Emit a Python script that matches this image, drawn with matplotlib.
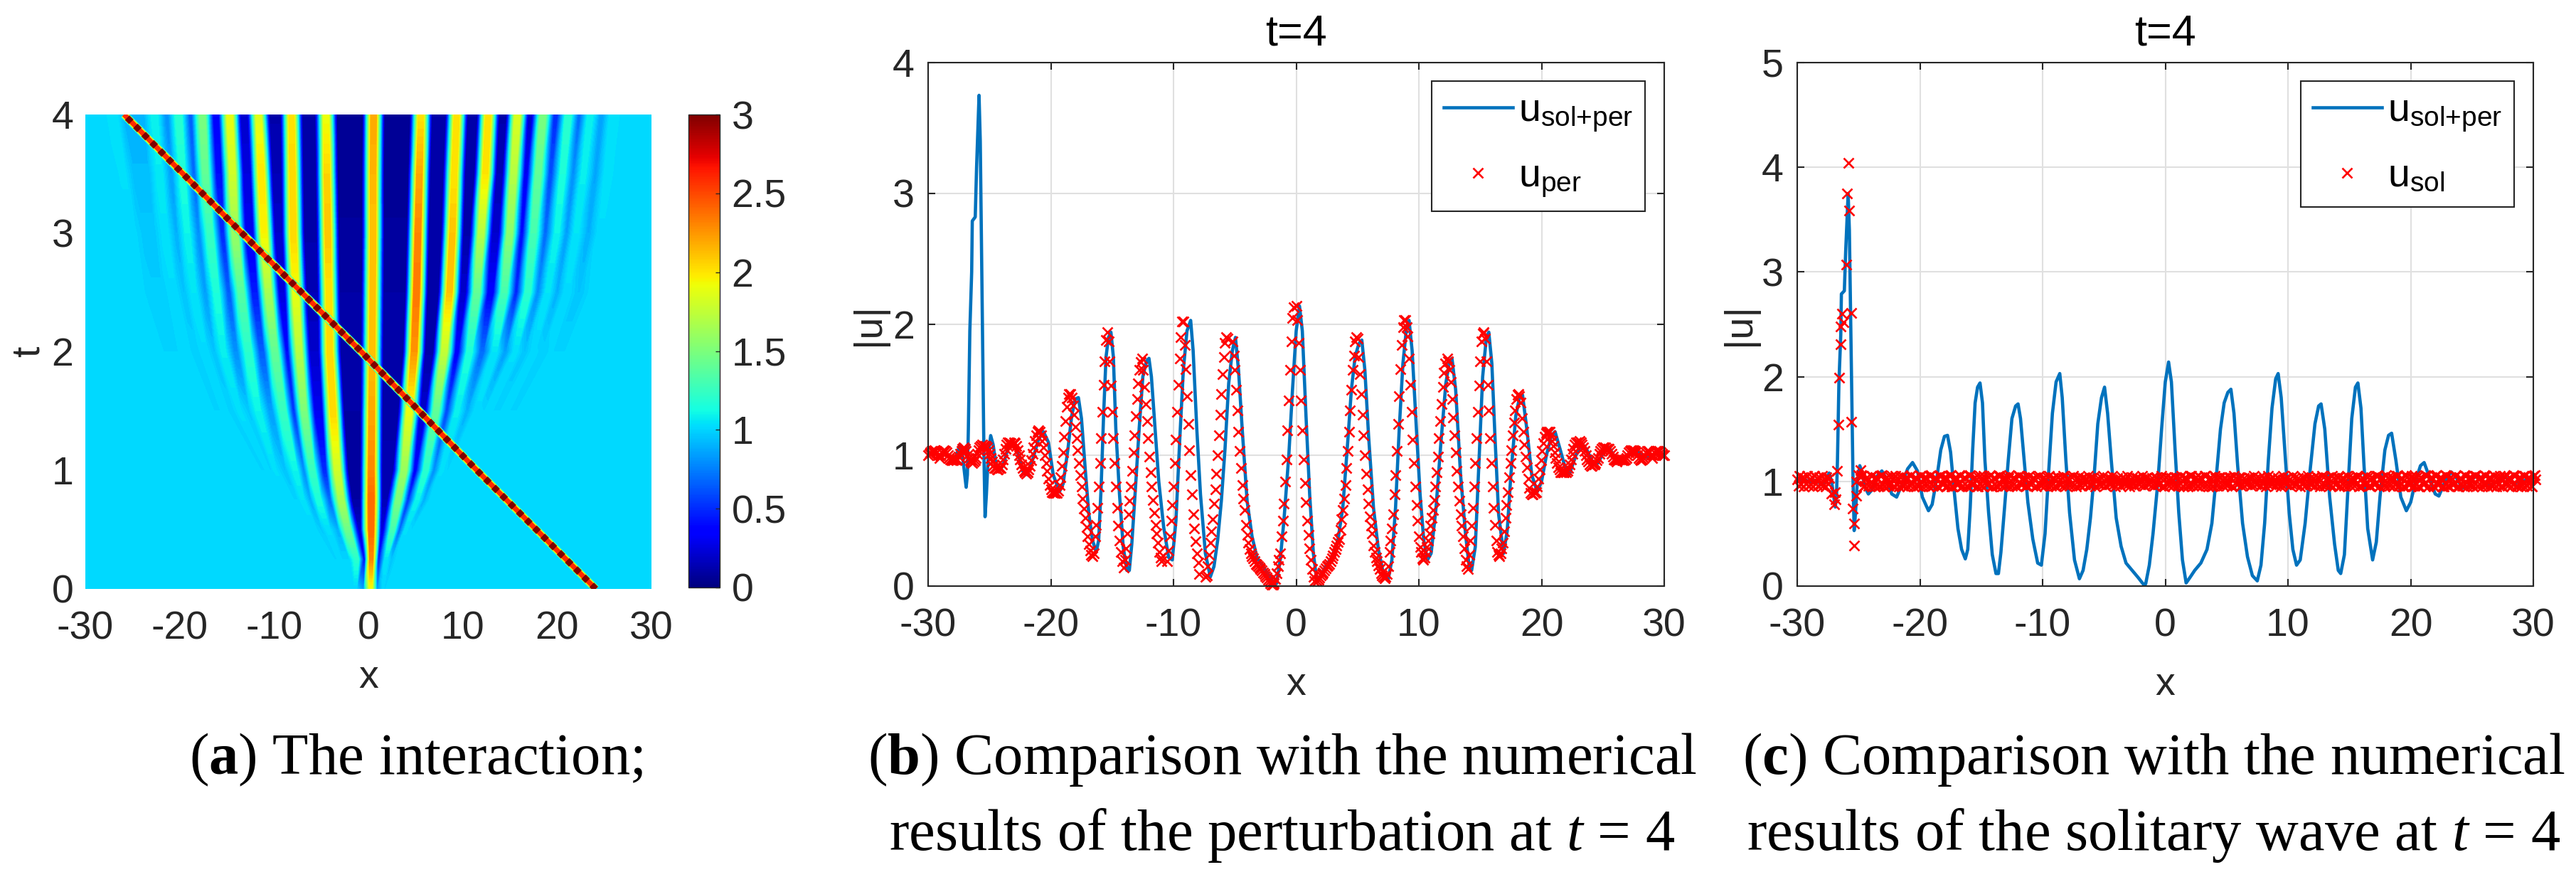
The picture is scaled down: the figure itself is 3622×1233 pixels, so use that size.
import numpy as np
import matplotlib
matplotlib.use("Agg")
import matplotlib.pyplot as plt
from matplotlib.cm import ScalarMappable
from matplotlib.colors import Normalize
from matplotlib.tri import Triangulation

plt.rcParams["font.family"] = "Liberation Sans"
plt.rcParams["axes.unicode_minus"] = False
plt.rcParams["mathtext.fontset"] = "custom"
plt.rcParams["mathtext.rm"] = "Liberation Sans"
plt.rcParams["mathtext.it"] = "Liberation Serif:italic"
plt.rcParams["mathtext.bf"] = "Liberation Serif:bold"

# Panel (a): crest lines of the fan, read at these times, left to right
heat_t = [0, 0.25, 0.5, 0.75, 1, 1.5, 2, 2.5, 3, 3.5, 4]
crest_x = [
    [-3.6, -6.2, -9.5, -12.5, -15, -19, -22, -24, -25, -26, -27],
    [-3.2, -5.6, -8.5, -11, -13, -16.5, -19, -20.6, -21.5, -22.1, -22.65],
    [-2.9, -5, -7.5, -9.5, -11.5, -15, -17.3, -18.5, -19.2, -19.7, -20.1],
    [-2.6, -4.6, -6.8, -8.6, -10.5, -13.7, -15.4, -16.1, -16.8, -17.3, -17.6],
    [-2.3, -4.2, -6.2, -8, -10, -11.7, -12.7, -13.5, -14.15, -14.4, -14.7],
    [-2, -3.7, -5.6, -7, -7.7, -9, -9.9, -10.6, -11.06, -11.35, -11.64],
    [-1.7, -3, -4.3, -5.3, -6, -6.85, -7.35, -7.7, -7.96, -8.05, -8.15],
    [-1.4, -1.2, -2.2, -2.9, -3.3, -3.75, -4.1, -4.2, -4.3, -4.4, -4.48],
    [0.27, 0.3, 0.3, 0.3, 0.3, 0.35, 0.4, 0.45, 0.5, 0.5, 0.55],
    [1.6, 1.9, 2.6, 3.2, 3.8, 4.35, 4.85, 5.1, 5.25, 5.4, 5.57],
    [2, 3, 4, 5.2, 6.1, 7.2, 8.05, 8.6, 8.9, 9.1, 9.36],
    [2.4, 3.8, 5.2, 6.6, 7.8, 9.4, 10.7, 11.5, 11.95, 12.4, 12.7],
    [2.8, 4.4, 6, 7.5, 9, 11.5, 13.4, 14.4, 15, 15.4, 15.8],
    [3.1, 4.9, 6.8, 8.5, 10, 13, 15.6, 16.9, 17.5, 18, 18.5],
    [3.4, 5.4, 7.6, 9.5, 11.5, 14.8, 17.5, 19, 20, 20.6, 21.2],
    [3.7, 6, 8.4, 10.5, 13, 16.5, 19.3, 21, 22, 22.8, 23.5],
    [4, 6.5, 9.5, 12, 15, 19, 22, 23.6, 24.6, 25.3, 25.9],
]
crest_u = [
    [1, 1, 1, 1, 1, 1, 1, 1, 1.01, 1.03, 1.05],
    [1, 1, 1, 1, 1, 1, 1, 1.02, 1.04, 1.07, 1.1],
    [1, 1, 1, 1, 1, 1, 1.02, 1.05, 1.1, 1.15, 1.2],
    [1, 1, 1, 1, 1, 1.03, 1.08, 1.15, 1.25, 1.4, 1.5],
    [1, 1, 1, 1, 1.03, 1.1, 1.2, 1.35, 1.6, 1.8, 1.9],
    [1, 1, 1, 1.05, 1.1, 1.25, 1.4, 1.65, 1.95, 2, 1.85],
    [1, 1, 1.03, 1.15, 1.25, 1.5, 1.7, 1.9, 2.05, 2.05, 2],
    [1, 1.2, 1.45, 1.65, 1.8, 2.05, 2.05, 2, 2.1, 2.05, 1.9],
    [1.9, 2.3, 2.4, 2.4, 2.3, 2.2, 2.1, 2.1, 2.1, 2.15, 2.2],
    [1, 1.05, 1.3, 1.5, 1.6, 1.9, 2.25, 2.35, 2.3, 2.2, 2],
    [1, 1, 1.03, 1.1, 1.2, 1.4, 1.75, 2.1, 2.1, 2, 2],
    [1, 1, 1, 1, 1.03, 1.08, 1.15, 1.4, 1.7, 2, 2],
    [1, 1, 1, 1, 1, 1.02, 1.05, 1.3, 1.55, 1.7, 1.85],
    [1, 1, 1, 1, 1, 1, 1.03, 1.2, 1.3, 1.4, 1.5],
    [1, 1, 1, 1, 1, 1, 1.01, 1.05, 1.1, 1.15, 1.2],
    [1, 1, 1, 1, 1, 1, 1, 1.02, 1.05, 1.08, 1.1],
    [1, 1, 1, 1, 1, 1, 1, 1, 1.02, 1.04, 1.05],
]
# values in the trough between neighbouring crests
trough_u = [
    [1, 1, 1, 1, 1, 1, 1, 0.98, 0.96, 0.93, 0.9],
    [1, 1, 1, 1, 1, 1, 0.99, 0.95, 0.9, 0.85, 0.8],
    [1, 1, 1, 1, 1, 0.99, 0.95, 0.85, 0.8, 0.7, 0.65],
    [1, 1, 1, 1, 1, 0.97, 0.8, 0.65, 0.5, 0.4, 0.35],
    [1, 1, 1, 1, 0.95, 0.85, 0.65, 0.45, 0.3, 0.25, 0.2],
    [1, 1, 0.97, 0.9, 0.8, 0.55, 0.4, 0.25, 0.2, 0.15, 0.12],
    [1, 1, 0.9, 0.7, 0.5, 0.3, 0.2, 0.15, 0.12, 0.1, 0.1],
    [0.85, 0.45, 0.2, 0.1, 0.08, 0.1, 0.1, 0.1, 0.08, 0.06, 0.05],
    [0.85, 0.5, 0.25, 0.15, 0.15, 0.1, 0.1, 0.1, 0.08, 0.06, 0.05],
    [1, 0.95, 0.7, 0.55, 0.35, 0.2, 0.12, 0.1, 0.1, 0.1, 0.1],
    [1, 1, 1, 0.9, 0.8, 0.6, 0.35, 0.2, 0.12, 0.1, 0.1],
    [1, 1, 1, 1, 1, 0.9, 0.7, 0.35, 0.2, 0.15, 0.12],
    [1, 1, 1, 1, 1, 1, 0.85, 0.5, 0.4, 0.3, 0.2],
    [1, 1, 1, 1, 1, 1, 0.95, 0.8, 0.7, 0.6, 0.5],
    [1, 1, 1, 1, 1, 1, 0.99, 0.9, 0.85, 0.8, 0.7],
    [1, 1, 1, 1, 1, 1, 1, 0.95, 0.9, 0.87, 0.85],
]
soliton_t = [0, 1, 2, 3, 4]
soliton_x = [24.1, 11.5, -0.75, -13.4, -25.9]

# Panels (b, c): |u| of the full solution
full_x = [-30, -29.5, -29, -28.5, -28, -27.7, -27.4, -27.2, -26.9, -26.8, -26.72, -26.6, -26.45, -26.4,
          -26.16, -26.05, -25.85, -25.75, -25.65, -25.55, -25.45, -25.36, -25.25, -25.1, -24.9, -24.7,
          -24.5, -24.2, -23.9, -23.5, -23.1, -22.7, -22.3, -21.9, -21.5, -21, -20.6, -20.2, -19.8, -19.3,
          -19, -18.6, -18.3, -18, -17.75, -17.5, -17.2, -16.9, -16.6, -16.3, -16.1, -15.9, -15.7, -15.5,
          -15.3, -15.1, -14.9, -14.7, -14.4, -14.1, -13.8, -13.6, -13.4, -13.1, -12.8, -12.5, -12.2, -12,
          -11.8, -11.5, -11.2, -10.8, -10.4, -10.1, -9.8, -9.5, -9.2, -8.9, -8.6, -8.4, -8.1, -7.8, -7.4,
          -7, -6.7, -6.4, -6.1, -5.8, -5.5, -5.2, -4.95, -4.7, -4.4, -4, -3.6, -3.2, -2.7, -2.2, -1.8,
          -1.6, -1.3, -1, -0.6, -0.3, 0, 0.27, 0.5, 0.8, 1.1, 1.4, 1.7, 2, 2.4, 2.9, 3.4, 3.8, 4.2, 4.5,
          4.8, 5.1, 5.35, 5.6, 5.9, 6.3, 6.7, 7.1, 7.5, 7.8, 8.1, 8.4, 8.7, 9, 9.2, 9.45, 9.8, 10.1, 10.4,
          10.7, 11, 11.4, 11.8, 12.2, 12.5, 12.7, 13, 13.4, 13.8, 14.1, 14.3, 14.6, 14.9, 15.2, 15.5,
          15.7, 15.95, 16.2, 16.5, 16.9, 17.2, 17.5, 17.9, 18.2, 18.45, 18.8, 19.2, 19.65, 20, 20.4, 20.8,
          21.1, 21.5, 22, 22.3, 22.8, 23.3, 23.7, 24.2, 24.6, 25.1, 25.5, 26, 26.6, 27.2, 27.7, 28.4, 29,
          29.6, 30]
full_u = [1, 1.03, 0.99, 1.01, 0.97, 1, 1.08, 1, 0.755, 0.85, 1.2, 1.95, 2.4, 2.79,
          2.82, 3.2, 3.75, 3.4, 2.6, 1.8, 1, 0.53, 0.7, 1, 1.15, 1.08,
          0.95, 0.88, 0.92, 1.05, 1.1, 1.02, 0.88, 0.85, 0.96, 1.12, 1.18, 1.1, 0.85, 0.72,
          0.78, 1.05, 1.3, 1.43, 1.44, 1.28, 0.9, 0.55, 0.35, 0.26, 0.35, 0.75, 1.3, 1.75,
          1.9, 1.94, 1.75, 1.2, 0.7, 0.3, 0.12, 0.12, 0.32, 0.75, 1.2, 1.6, 1.72, 1.74,
          1.6, 1.2, 0.8, 0.45, 0.22, 0.2, 0.5, 1.1, 1.65, 1.95, 2.03, 1.8, 1.2, 0.7, 0.25,
          0.07, 0.15, 0.35, 0.65, 1.05, 1.55, 1.8, 1.9, 1.65, 1.2, 0.65, 0.38, 0.22, 0.15, 0.08, 0.02,
          0.02, 0.2, 0.5, 1, 1.5, 1.95, 2.14, 1.95, 1.3, 0.7, 0.25, 0.03, 0.08, 0.15, 0.22, 0.35, 0.6, 1.1, 1.5,
          1.75, 1.85, 1.88, 1.65, 1.15, 0.6, 0.28, 0.1, 0.05, 0.2, 0.6, 1.2, 1.7, 1.98, 2.03, 1.8, 1.2, 0.7, 0.35,
          0.2, 0.25, 0.6, 1.1, 1.55, 1.72, 1.74, 1.5, 0.85, 0.4, 0.15, 0.12, 0.3, 0.95, 1.6, 1.9,
          1.94, 1.7, 1.15, 0.55, 0.25, 0.42, 0.85, 1.3, 1.44, 1.46, 1.2, 0.85, 0.72, 0.8, 1, 1.15,
          1.18, 1.05, 0.88, 0.86, 1, 1.09, 1.04, 0.94, 0.94, 1.03, 1.06, 0.98, 0.96, 1.02, 1.04, 0.98, 1,
          1.02, 1]

# Panel (b): perturbation samples, one run of values per start position
per_dx = 0.1
per_starts = [-30.0, -22.0, -19.5, -16.6, -14.07, -10.5, -7.4, -5.2, -1.9, 0.0, 1.7, 4.9, 7.2, 8.9,
              10.35, 12.3, 14.0, 15.4, 16.55, 18.1, 19.45, 22.0]
per_runs = [
    [1.00, 1.01, 1.02, 1.03, 1.03, 1.04, 1.03, 1.02, 1.00, 0.98, 1.00, 1.02, 1.03, 1.04, 1.03, 1.02, 1.00, 0.98, 0.97, 0.96,
     0.96, 0.97, 0.97, 0.96, 0.97, 0.99, 1.01, 1.03, 1.05, 1.06, 1.05, 1.03, 1.00, 0.98, 0.96, 0.95, 0.94, 0.95, 0.96, 0.98,
     1.01, 1.04, 1.06, 1.07, 1.08, 1.07, 1.07, 1.07, 1.06, 1.04, 1.01, 0.98, 0.95, 0.92, 0.90, 0.90, 0.89, 0.89, 0.90, 0.90,
     0.93, 0.97, 1.01, 1.05, 1.08, 1.10, 1.10, 1.09, 1.07, 1.08, 1.10, 1.09, 1.07, 1.04, 1.00, 0.97, 0.93, 0.90, 0.88, 0.87],
    [0.86, 0.87, 0.89, 0.92, 0.96, 1.01, 1.06, 1.11, 1.15, 1.18, 1.19, 1.18, 1.15, 1.11, 1.06, 1.00, 0.94, 0.88, 0.82, 0.77,
     0.74, 0.72, 0.71, 0.71, 0.71],
    [0.71, 0.73, 0.77, 0.83, 0.92, 1.02, 1.14, 1.26, 1.37, 1.44, 1.47, 1.47, 1.44, 1.38, 1.31, 1.22, 1.13, 1.04, 0.94, 0.85,
     0.76, 0.67, 0.59, 0.52, 0.45, 0.38, 0.32, 0.27, 0.24],
    [0.23, 0.25, 0.38, 0.47, 0.60, 0.76, 0.94, 1.13, 1.33, 1.54, 1.72, 1.88, 1.94, 1.87, 1.72, 1.53, 1.33, 1.13, 0.94, 0.76,
     0.60, 0.46, 0.35, 0.26, 0.19],
    [0.14, 0.20, 0.29, 0.40, 0.55, 0.65, 0.76, 0.88, 1.02, 1.15, 1.30, 1.43, 1.55, 1.65, 1.71, 1.74, 1.65, 1.52, 1.39, 1.26,
     1.13, 0.99, 0.87, 0.76, 0.66, 0.56, 0.47, 0.40, 0.33, 0.26, 0.22, 0.19],
    [0.19, 0.27, 0.38, 0.50, 0.62, 0.76, 0.94, 1.12, 1.33, 1.54, 1.74, 1.90, 2.02, 2.02, 1.84, 1.66, 1.45, 1.24, 1.04, 0.85,
     0.70, 0.55, 0.44, 0.34, 0.25, 0.18, 0.09],
    [0.07, 0.08, 0.15, 0.24, 0.33, 0.42, 0.51, 0.63, 0.74, 0.86, 1.00, 1.15, 1.31, 1.47, 1.62, 1.75, 1.86, 1.90, 1.89],
    [1.87, 1.76, 1.65, 1.50, 1.34, 1.18, 1.03, 0.90, 0.77, 0.67, 0.58, 0.47, 0.39, 0.33, 0.28, 0.25, 0.23, 0.21, 0.19, 0.17,
     0.165, 0.15, 0.14, 0.13, 0.12, 0.105, 0.09, 0.075, 0.065, 0.05, 0.04, 0.02, 0.01],
    [0.01, 0.02, 0.055, 0.10, 0.15, 0.20, 0.25, 0.38, 0.50, 0.63, 0.80, 0.97, 1.19, 1.42, 1.65, 1.87, 2.05, 2.13],
    [2.14, 2.03, 1.86, 1.65, 1.42, 1.19, 0.97, 0.79, 0.64, 0.50, 0.39, 0.29, 0.20, 0.13, 0.07, 0.04],
    [0.04, 0.05, 0.065, 0.08, 0.09, 0.105, 0.12, 0.135, 0.15, 0.16, 0.17, 0.19, 0.21, 0.235, 0.26, 0.285, 0.31, 0.335, 0.36,
     0.43, 0.51, 0.58, 0.67, 0.77, 0.90, 1.03, 1.18, 1.34, 1.50, 1.65, 1.76, 1.87],
    [1.90, 1.89, 1.75, 1.62, 1.47, 1.31, 1.15, 1.00, 0.86, 0.74, 0.63, 0.53, 0.46, 0.40, 0.31, 0.26, 0.22, 0.19, 0.16, 0.13,
     0.10, 0.08, 0.07],
    [0.06, 0.07, 0.09, 0.15, 0.26, 0.35, 0.44, 0.55, 0.70, 0.85, 1.03, 1.24, 1.45, 1.66, 1.84, 1.98, 2.03],
    [2.03, 1.98, 1.91, 1.74, 1.54, 1.33, 1.12, 0.94, 0.76, 0.62, 0.50, 0.38, 0.30, 0.26, 0.21],
    [0.20, 0.22, 0.26, 0.30, 0.35, 0.40, 0.46, 0.52, 0.58, 0.66, 0.76, 0.87, 0.99, 1.13, 1.26, 1.39, 1.52, 1.63, 1.70],
    [1.74, 1.72, 1.65, 1.56, 1.43, 1.29, 1.15, 1.02, 0.88, 0.76, 0.65, 0.55, 0.46, 0.38, 0.29, 0.20, 0.15],
    [0.13, 0.24, 0.35, 0.46, 0.60, 0.76, 0.94, 1.13, 1.33, 1.53, 1.72, 1.87, 1.93, 1.94],
    [1.89, 1.72, 1.54, 1.34, 1.13, 0.94, 0.76, 0.60, 0.47, 0.35, 0.26, 0.24],
    [0.23, 0.25, 0.29, 0.33, 0.42, 0.52, 0.62, 0.72, 0.83, 0.94, 1.04, 1.15, 1.25, 1.34, 1.43, 1.46],
    [1.47, 1.45, 1.40, 1.28, 1.18, 1.08, 0.99, 0.91, 0.82, 0.75, 0.71, 0.70, 0.70],
    [0.71, 0.72, 0.76, 0.82, 0.89, 0.96, 1.03, 1.09, 1.14, 1.17, 1.18, 1.18, 1.18, 1.15, 1.11, 1.07, 1.02, 0.98, 0.94, 0.91,
     0.89, 0.87, 0.87, 0.87, 0.87],
    [0.87, 0.88, 0.90, 0.93, 0.97, 1.01, 1.05, 1.08, 1.10, 1.10, 1.10, 1.11, 1.10, 1.08, 1.06, 1.03, 1.00, 0.97, 0.95, 0.93,
     0.92, 0.92, 0.93, 0.93, 0.94, 0.96, 0.98, 1.01, 1.03, 1.05, 1.06, 1.06, 1.06, 1.05, 1.05, 1.05, 1.03, 1.01, 0.99, 0.97,
     0.96, 0.95, 0.96, 0.97, 0.97, 0.97, 0.96, 0.96, 0.97, 0.98, 1.00, 1.02, 1.03, 1.04, 1.04, 1.04, 1.03, 1.02, 1.00, 0.98,
     0.97, 0.96, 0.97, 0.98, 1.00, 1.02, 1.03, 1.03, 1.02, 1.00, 0.98, 1.00, 1.02, 1.03, 1.03, 1.03, 1.03, 1.02, 1.01, 1.00, 1.00],
]

# Panel (c): solitary wave samples around the pulse
sol_x = [-25.84, -25.97, -25.75, -26.02, -26.33, -26.24, -26.47, -25.6, -26.47, -26.56, -26.65, -25.57, -26.74,
         -26.9, -27.2, -26.88, -26.97, -25.2, -25.48, -25.34, -25.38, -24.84, -25.0, -25.2]
sol_u = [4.04, 3.75, 3.59, 3.07, 2.6, 2.52, 2.48, 2.61, 2.31, 1.99, 1.54, 1.57, 1.1,
         0.9, 0.88, 0.83, 0.78, 0.86, 0.74, 0.6, 0.39, 1.11, 1.06, 1.0]
# the flat band left of the pulse (from x=-30) and right of it (from x=-24.8)
band_left_start = -30.0
band_left_dx = 0.1
band_left = [1.02, 0.96, 1.05, 0.97, 1.04, 0.95, 1.03, 0.98, 1.05, 0.96, 1.02, 0.97, 1.04, 0.95, 1.05, 0.98, 1.03, 0.96, 1.04,
             0.97, 1.05, 0.96, 1.02, 0.95, 1.04, 0.98, 1.03]
band_right_start = -24.8
band_right_dx = 0.2
band_right = [
    1.06, 0.95, 1.03, 0.96, 1.05, 0.97, 1.04, 0.95, 1.05, 0.97, 1.03, 0.96, 1.04, 0.95, 1.05, 0.97, 1.04, 0.96, 1.03, 0.95, 1.05, 0.98, 1.04, 0.96, 1.05,
    0.95, 1.04, 0.97, 1.05, 0.96, 1.03, 0.95, 1.05, 0.97, 1.04, 0.96, 1.05, 0.95, 1.03, 0.97, 1.06, 0.95, 1.04, 0.96, 1.05, 0.97, 1.03, 0.95, 1.04, 0.96,
    1.05, 0.97, 1.04, 0.95, 1.03, 0.96, 1.05, 0.97, 1.04, 0.96, 1.03, 0.97, 1.04, 0.96, 1.05, 0.97, 1.03, 0.96, 1.04, 0.97, 1.03, 0.96, 1.04, 0.97, 1.03,
    0.96, 1.04, 0.97, 1.03, 0.96, 1.04, 0.97, 1.03, 0.97, 1.03, 0.96, 1.04, 0.97, 1.03, 0.97, 1.03, 0.97, 1.02, 0.97, 1.03, 0.98, 1.02, 0.97, 1.03, 0.98,
    1.02, 0.98, 1.02, 0.97, 1.02, 0.98, 1.02, 0.98, 1.02, 0.98, 1.02, 0.98, 1.03, 0.98, 1.02, 0.97, 1.03, 0.98, 1.02, 0.97, 1.03, 0.97, 1.03, 0.96, 1.04,
    0.97, 1.03, 0.96, 1.04, 0.97, 1.03, 0.96, 1.04, 0.95, 1.05, 0.97, 1.03, 0.96, 1.04, 0.96, 1.05, 0.97, 1.03, 0.95, 1.05, 0.96, 1.04, 0.97, 1.03, 0.96,
    1.04, 0.95, 1.05, 0.97, 1.04, 0.96, 1.03, 0.97, 1.04, 0.96, 1.05, 0.97, 1.03, 0.96, 1.04, 0.95, 1.05, 0.97, 1.04, 0.96, 1.03, 0.95, 1.05, 0.97, 1.04,
    0.96, 1.05, 0.97, 1.03, 0.95, 1.04, 0.96, 1.05, 0.97, 1.03, 0.96, 1.04, 0.95, 1.05, 0.97, 1.03, 0.96, 1.05, 0.97, 1.04, 0.95, 1.03, 0.96, 1.05, 0.97,
    1.04, 0.96, 1.05, 0.95, 1.03, 0.97, 1.05, 0.96, 1.04, 0.97, 1.05, 0.95, 1.03, 0.96, 1.06, 0.97, 1.04, 0.95, 1.05, 0.96, 1.03, 0.95, 1.06, 0.97, 1.04,
    0.96, 1.05, 0.95, 1.04, 0.97, 1.06, 0.95, 1.03, 0.96, 1.05, 0.97, 1.04, 0.95, 1.06, 0.96, 1.04, 0.97, 1.05, 0.95, 1.03, 0.96, 1.06, 0.95, 1.04, 0.97,
    1.05, 0.96, 1.03, 0.95, 1.06, 0.97, 1.04, 0.96, 1.05, 0.95, 1.03, 0.96, 1.05, 0.97, 1.04, 0.95, 1.06, 0.96, 1.03, 0.95, 1.05, 0.97, 1.04, 0.96, 1.05, 1.02,
]

x_ticks = [-30, -20, -10, 0, 10, 20, 30]
t_ticks = [0, 1, 2, 3, 4]
cbar_ticks = [0, 0.5, 1, 1.5, 2, 2.5, 3]
cbar_labels = ["0", "0.5", "1", "1.5", "2", "2.5", "3"]
captions = [
    [r"($\mathbf{a}$) The interaction;"],
    [r"($\mathbf{b}$) Comparison with the numerical", r"results of the perturbation at $t$ = 4"],
    [r"($\mathbf{c}$) Comparison with the numerical", r"results of the solitary wave at $t$ = 4"],
]

W, H = 3622, 1233
DARK = "#262626"
BLUE = "#0072BD"
TICK_FS = 40


def add_axes(x0, x1, y0, y1):
    return fig.add_axes([x0 / W, 1 - y1 / H, (x1 - x0) / W, (y1 - y0) / H])


def fan_mesh(half_width=1.15, top=0.28):
    """Curvilinear mesh: flat-topped crests with flat shoulders either side."""
    crest = np.array(crest_x, float)
    peak = np.array(crest_u, float)
    low = np.array(trough_u, float)
    nt, nr = len(heat_t), len(crest_x)
    ones = np.ones(nt)
    cols_x = [np.full(nt, -30.0)]
    cols_u = [ones]
    for j in range(nr):
        gap_l = crest[j] - (crest[j - 1] if j else -30.0)
        gap_r = (crest[j + 1] if j < nr - 1 else 30.0) - crest[j]
        cols_x += [crest[j] - np.minimum(half_width, 0.45 * gap_l),
                   crest[j] - np.minimum(top, 0.1 * gap_l),
                   crest[j] + np.minimum(top, 0.1 * gap_r),
                   crest[j] + np.minimum(half_width, 0.45 * gap_r)]
        cols_u += [low[j - 1] if j else ones, peak[j], peak[j], low[j] if j < nr - 1 else ones]
    cols_x.append(np.full(nt, 30.0))
    cols_u.append(ones)
    xs = np.array(cols_x)
    us = np.array(cols_u)
    ts = np.tile(heat_t, (xs.shape[0], 1))
    nc = xs.shape[0]
    tris = []
    for c in range(nc - 1):
        for i in range(nt - 1):
            a, b = c * nt + i, (c + 1) * nt + i
            tris += [[a, b, b + 1], [a, b + 1, a + 1]]
    return Triangulation(xs.ravel(), ts.ravel(), np.array(tris)), us.ravel()


def set_labels(ax, ylabel, ylabel_x, xlabel_y=-0.208):
    ax.set_xlabel("x", fontsize=TICK_FS, color=DARK)
    ax.xaxis.label.set_verticalalignment("baseline")
    ax.xaxis.set_label_coords(0.5, xlabel_y)
    ax.set_ylabel(ylabel, fontsize=TICK_FS, color=DARK)
    ax.yaxis.label.set_verticalalignment("baseline")
    ax.yaxis.set_label_coords(ylabel_x, 0.5)


def style_line_axes(ax, ymax):
    ax.set_xlim(-30, 30)
    ax.set_ylim(0, ymax)
    ax.set_xticks(x_ticks)
    ax.set_yticks(range(ymax + 1))
    ax.grid(True, color="#e0e0e0", lw=1.5)
    ax.set_axisbelow(True)
    ax.tick_params(direction="in", top=True, right=True, length=7, width=1.5, color=DARK,
                   labelcolor=DARK, labelsize=TICK_FS)
    ax.tick_params(axis="x", pad=22)
    ax.tick_params(axis="y", pad=14)
    for sp in ax.spines.values():
        sp.set_linewidth(1.5)
        sp.set_color(DARK)
    ax.set_title("t=4", fontsize=44, color="black", pad=18)


fig = plt.figure(figsize=(W / 100, H / 100), dpi=100)

# (a) interaction map
ax_a = add_axes(120, 916, 161, 828)
tri, zvals = fan_mesh()
ax_a.tricontourf(tri, zvals, levels=np.linspace(0, 3, 121), cmap="jet", extend="both")
jet = plt.get_cmap("jet")
norm = Normalize(0, 3)
ax_a.plot(soliton_x, soliton_t, color=jet(norm(1.2)), lw=8.5, solid_capstyle="butt")
ax_a.plot(soliton_x, soliton_t, color=jet(norm(1.9)), lw=7, solid_capstyle="butt")
ax_a.plot(soliton_x, soliton_t, color=jet(norm(2.6)), lw=5, solid_capstyle="butt")
ax_a.plot(soliton_x, soliton_t, color=jet(norm(3.0)), lw=6.5, ls=(0, (0.9, 0.9)))
ax_a.set_xlim(-30, 30)
ax_a.set_ylim(0, 4)
ax_a.set_xticks(x_ticks)
ax_a.set_yticks(t_ticks)
ax_a.tick_params(length=0, labelcolor=DARK, labelsize=TICK_FS)
ax_a.tick_params(axis="x", pad=22)
ax_a.tick_params(axis="y", pad=12)
for sp in ax_a.spines.values():
    sp.set_visible(False)
set_labels(ax_a, "t", -0.0817)

cax = add_axes(968, 1012, 161, 826)
cb = fig.colorbar(ScalarMappable(norm=norm, cmap=jet), cax=cax)
cb.set_ticks(cbar_ticks, labels=cbar_labels)
cb.ax.tick_params(direction="in", length=4, width=1, color=DARK, labelcolor=DARK, labelsize=TICK_FS, pad=12)
cb.outline.set_linewidth(1)
cb.outline.set_edgecolor(DARK)

leg_kw = dict(loc="upper right", borderaxespad=0, fontsize=TICK_FS, frameon=True, fancybox=False,
              framealpha=1, edgecolor=DARK, handlelength=1.75, handletextpad=0.15, labelspacing=0.62,
              borderpad=0.3, numpoints=1)
mark_kw = dict(color="red", ms=10.5, mew=1.9, clip_on=False)

# (b) perturbation against the full solution
ax_b = add_axes(1305, 2340, 88, 824)
style_line_axes(ax_b, 4)
ax_b.plot(full_x, full_u, color=BLUE, lw=3.3, label=r"u$_{\mathrm{sol{+}per}}$")
for x0, run in zip(per_starts, per_runs):
    xs = x0 + per_dx * np.arange(len(run))
    marks, = ax_b.plot(xs, run, "x", **mark_kw)
marks.set_label(r"u$_{\mathrm{per}}$")
set_labels(ax_b, "|u|", -0.0667)
leg = ax_b.legend(bbox_to_anchor=(0.974, 0.965), **leg_kw)
leg.get_frame().set_linewidth(1.5)

# (c) solitary wave against the full solution
ax_c = add_axes(2527, 3562, 88, 824)
style_line_axes(ax_c, 5)
ax_c.plot(full_x, full_u, color=BLUE, lw=3.3, label=r"u$_{\mathrm{sol{+}per}}$")
ax_c.plot(band_left_start + band_left_dx * np.arange(len(band_left)), band_left, "x", **mark_kw)
right_xs = band_right_start + band_right_dx * np.arange(len(band_right))
ax_c.plot(right_xs, band_right, "x", **mark_kw)
ax_c.plot(right_xs[:-1] + 0.1, band_right[-2::-1], "x", **mark_kw)
ax_c.plot(sol_x, sol_u, "x", label=r"u$_{\mathrm{sol}}$", **mark_kw)
set_labels(ax_c, "|u|", -0.0647)
leg = ax_c.legend(bbox_to_anchor=(0.974, 0.965), **leg_kw)
leg.get_frame().set_linewidth(1.5)

# sub-captions
caption_cx = [585, 1803, 3028]
baselines = [1088, 1195]
for cx, lines in zip(caption_cx, captions):
    for base, txt in zip(baselines, lines):
        fig.text(cx / W, 1 - base / H, txt, ha="center", va="baseline", fontsize=59.5,
                 family="Liberation Serif", color="black")

fig.savefig("out.png", dpi=100)
